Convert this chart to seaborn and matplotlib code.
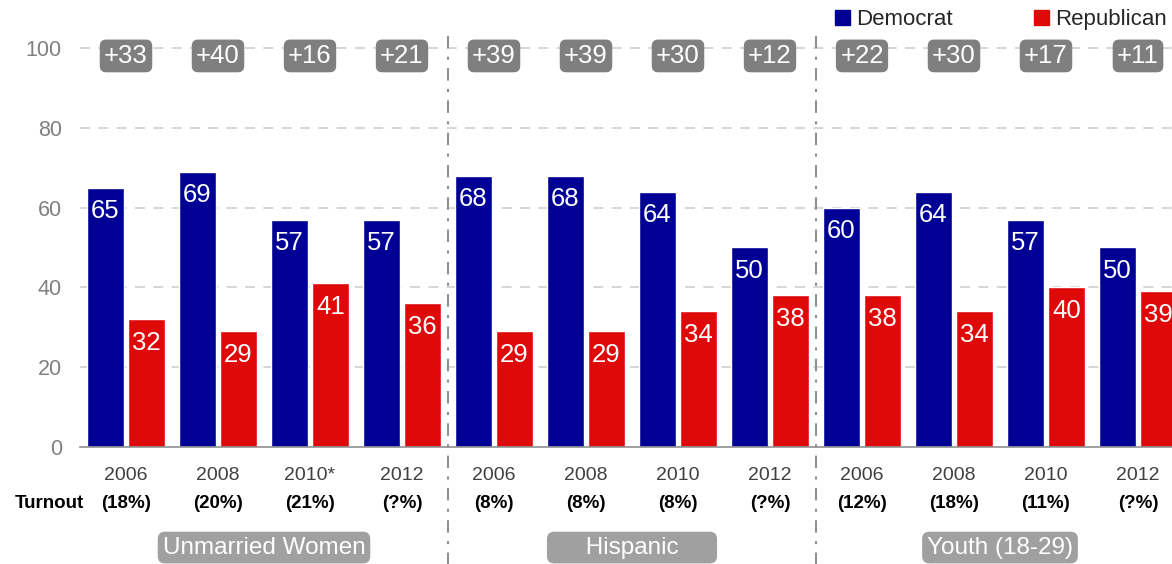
import pandas as pd
import numpy as np
import matplotlib
matplotlib.use("Agg")
import matplotlib.pyplot as plt
from matplotlib.patches import Patch
import seaborn as sns

# ---- data ----
groups = ["Unmarried Women", "Hispanic", "Youth (18-29)"]
years = ["2006", "2008", "2010*", "2012",
         "2006", "2008", "2010", "2012",
         "2006", "2008", "2010", "2012"]
turnout = ["(18%)", "(20%)", "(21%)", "(?%)",
           "(8%)", "(8%)", "(8%)", "(?%)",
           "(12%)", "(18%)", "(11%)", "(?%)"]
democrat = [65, 69, 57, 57, 68, 68, 64, 50, 60, 64, 57, 50]
republican = [32, 29, 41, 36, 29, 29, 34, 38, 38, 34, 40, 39]
margins = ["+33", "+40", "+16", "+21", "+39", "+39", "+30", "+12",
           "+22", "+30", "+17", "+11"]

BLUE = "#000094"
RED = "#DF0909"
GRID = "#d0d0d0"
DARKBOX = "#7f7f7f"
LIGHTBOX = "#a0a0a0"

sns.set_style("white")
plt.rcParams["font.family"] = ["Liberation Sans", "DejaVu Sans"]

slots = list(range(len(years)))
df = pd.DataFrame({
    "slot": slots * 2,
    "party": ["Democrat"] * len(slots) + ["Republican"] * len(slots),
    "value": democrat + republican,
})

fig = plt.figure(figsize=(11.72, 5.64), dpi=100)
ax = fig.add_axes([80 / 1172, 1 - 447 / 564, 1104 / 1172, 419 / 564])

sns.barplot(data=df, x="slot", y="value", hue="party", order=slots,
            palette={"Democrat": BLUE, "Republican": RED},
            width=0.89, gap=0.1, errorbar=None, legend=False,
            saturation=1, ax=ax)

ax.set_ylim(0, 105)
ax.set_xlim(-0.5, len(slots) - 0.5)
ax.set_xlabel("")
ax.set_ylabel("")

# grid
for yv in [20, 40, 60, 80, 100]:
    ax.axhline(yv, color=GRID, lw=1.2, ls=(0, (6, 5)), zorder=0)
ax.set_yticks([0, 20, 40, 60, 80, 100])
ax.tick_params(axis="y", length=0, pad=13, labelsize=15.5, labelcolor="#808080")

for s in ["top", "right", "left"]:
    ax.spines[s].set_visible(False)
ax.spines["bottom"].set_color("#909090")
ax.spines["bottom"].set_linewidth(1.2)

ax.set_xticks(slots)
ax.set_xticklabels(years)
ax.tick_params(axis="x", length=0, pad=14.5, labelsize=14, labelcolor="#404040")
ax.set_xticks(np.arange(-0.5, len(slots), 1), minor=True)
ax.tick_params(axis="x", which="minor", length=5, color="#909090", width=1.2)

# value labels inside bars
for cont in ax.containers:
    for bar in cont:
        h = bar.get_height()
        ax.annotate(f"{int(h)}", (bar.get_x() + bar.get_width() / 2, h),
                    xytext=(0, -17), textcoords="offset points",
                    ha="center", va="center", color="white", fontsize=18.5)

# margin boxes
for i, m in enumerate(margins):
    ax.text(i, 98, m, ha="center", va="center", color="white", fontsize=18.5,
            bbox=dict(boxstyle="round,pad=0.17,rounding_size=0.25",
                      fc=DARKBOX, ec="none"))

trans = ax.get_xaxis_transform()
# turnout row
for i, t in enumerate(turnout):
    ax.text(i, -0.136, t, transform=trans, ha="center", va="center",
            fontsize=13.5, fontweight="bold", color="black")
ax.text(-0.46, -0.136, "Turnout", transform=trans, ha="right", va="center",
        fontsize=13.5, fontweight="bold", color="black")

# group labels
group_text = ["Unmarried Women", "     Hispanic     ", "Youth (18-29)"]
for g, txt in enumerate(group_text):
    ax.text(4 * g + 1.5, -0.24, txt, transform=trans, ha="center", va="center",
            fontsize=17.5, color="white",
            bbox=dict(boxstyle="round,pad=0.2,rounding_size=0.3",
                      fc=LIGHTBOX, ec="none"))

# group dividers
for xd in [3.5, 7.5]:
    ax.plot([xd, xd], [-0.3, 1.0], transform=trans, clip_on=False,
            color="#909090", lw=1.5, ls=(0, (6, 4, 1.5, 4)))

handles = [Patch(color=BLUE, label="Democrat"), Patch(color=RED, label="Republican")]
fig.legend(handles=handles, loc="upper left", bbox_to_anchor=(835 / 1172, 1 - 9 / 564),
           ncol=2, frameon=False, fontsize=16, handlelength=0.68, handleheight=0.68,
           handletextpad=0.27, columnspacing=3.65, borderpad=0, borderaxespad=0)

fig.savefig("out.png", dpi=100)
